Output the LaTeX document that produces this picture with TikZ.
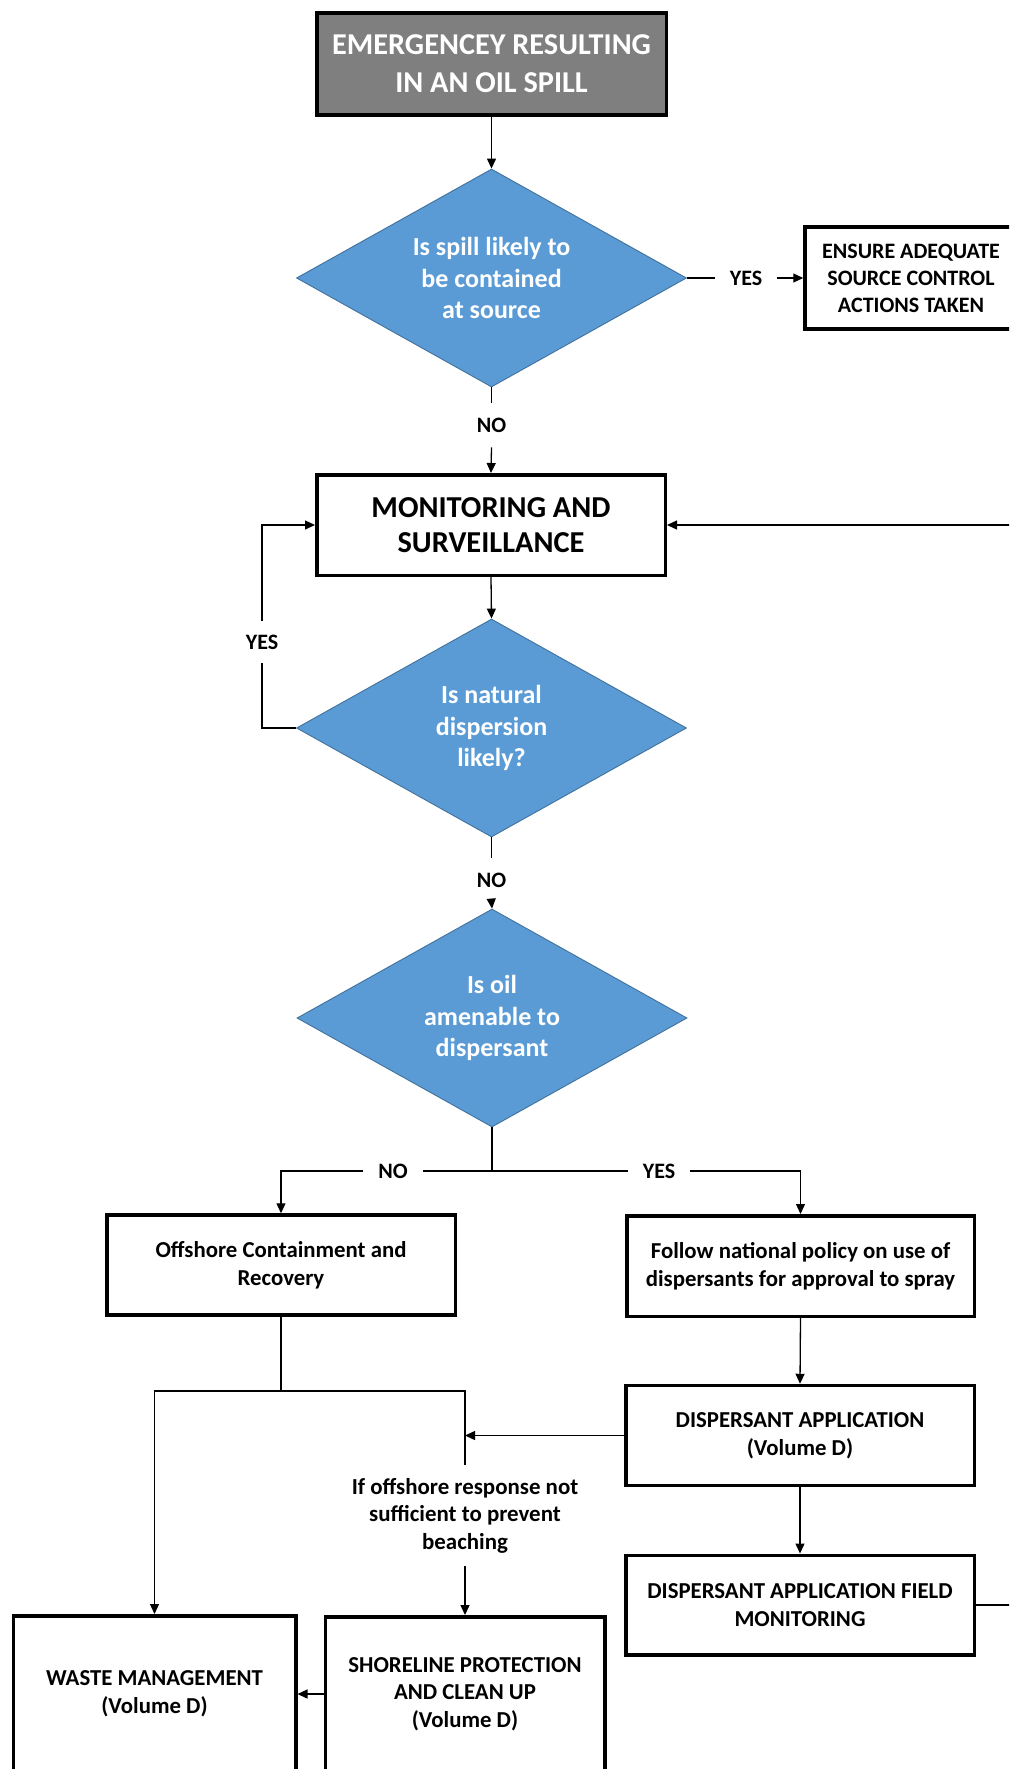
\documentclass[tikz,border=0pt]{standalone}
\usepackage{fontspec}
\setmainfont{Carlito}
\usetikzlibrary{shapes.geometric,arrows.meta}
\definecolor{qblue}{HTML}{5B9BD5}
\definecolor{qedge}{HTML}{41719C}
\definecolor{startgray}{HTML}{7F7F7F}
\tikzset{
  box/.style={draw, rectangle, line width=3.5pt, align=center, inner sep=0pt,
    font=\fontsize{22.8}{27.6}\selectfont\bfseries},
  smallbox/.style={box, font=\fontsize{22}{27}\selectfont\bfseries},
  startbox/.style={box, fill=startgray, text=white,
    font=\fontsize{30.3}{38}\selectfont\bfseries},
  bigbox/.style={box, font=\fontsize{30.4}{35}\selectfont\bfseries},
  decision/.style={diamond, fill=qblue, draw=qedge, line width=0.9pt,
    aspect=1.79, inner sep=0pt, align=center, text=white,
    minimum width=390pt, minimum height=218pt,
    font=\fontsize{26}{31.7}\selectfont\bfseries},
  lbl/.style={inner sep=0pt, outer sep=0pt, align=center,
    font=\fontsize{22}{27.7}\selectfont\bfseries},
  note/.style={lbl, font=\fontsize{22.9}{27.7}\selectfont\bfseries},
  conn/.style={line width=1.3pt},
  arr/.style={conn, -{Triangle[length=10pt,width=9pt]}}
}
\begin{document}
\begin{tikzpicture}[x=1pt,y=-1pt]
\useasboundingbox (0,0) rectangle (1009,1769);
\fill[white] (0,0) rectangle (1009,1769);
\clip (0,0) rectangle (1009,1769);

% main column
\node[startbox, minimum width=349.5pt, minimum height=101.5pt] (start) at (491.5,64)
  {EMERGENCEY RESULTING\\IN AN OIL SPILL};
\node[decision] (d1) at (491.5,278) {Is spill likely to\\be contained\\at source};
\node[smallbox, minimum width=212pt, minimum height=102pt] (ensure) at (911,278)
  {ENSURE ADEQUATE\\SOURCE CONTROL\\ACTIONS TAKEN};
\node[bigbox, minimum width=348.5pt, minimum height=100.5pt] (mon) at (491,525)
  {MONITORING AND\\SURVEILLANCE};
\node[decision] (d2) at (491.5,728) {Is natural\\dispersion\\likely?};
\node[decision] (d3) at (492,1018) {Is oil\\amenable to\\dispersant};

% response branches
\node[box, minimum width=348.5pt, minimum height=100pt] (off) at (281,1265)
  {Offshore Containment and\\Recovery};
\node[box, minimum width=347.5pt, minimum height=100.5pt] (follow) at (800.5,1266)
  {Follow national policy on use of\\dispersants for approval to spray};
\node[box, minimum width=348.5pt, minimum height=100pt] (da) at (800,1435.5)
  {DISPERSANT APPLICATION\\(Volume D)};
\node[box, minimum width=348.5pt, minimum height=99.5pt] (dafm) at (800,1605)
  {DISPERSANT APPLICATION FIELD\\MONITORING};
\node[box, minimum width=282.5pt, minimum height=156.5pt] (waste) at (154.5,1694)
  {WASTE MANAGEMENT\\(Volume D)};
\node[box, minimum width=279.5pt, minimum height=154.5pt] (shore) at (465,1694)
  {SHORELINE PROTECTION\\AND CLEAN UP\\(Volume D)};

% connector labels
\node[lbl, inner xsep=15pt] (yes1) at (746,278) {YES};
\node[lbl, inner ysep=15pt] (no1) at (491.5,425) {NO};
\node[lbl, inner ysep=14pt] (yesL) at (262,642) {YES};
\node[lbl, inner ysep=15pt] (no2) at (491.5,880) {NO};
\node[lbl, inner xsep=15pt] (noL) at (393,1171) {NO};
\node[lbl, inner xsep=15pt] (yesR) at (659,1171) {YES};
\node[note, inner ysep=13pt, anchor=north] (cond) at (465,1465)
  {If offshore response not\\sufficient to prevent\\beaching};

\coordinate (j1) at (492,1171);
\coordinate (j2) at (281,1391);
\coordinate (fb) at (1030,1605);

% connectors
\draw[arr] (start.south) -- (d1.north);
\draw[conn] (d1.east) -- (yes1.west);
\draw[arr] (yes1.east) -- (ensure.west);
\draw[conn] (d1.south) -- (no1.north);
\draw[arr] (no1.south) -- (mon.north);
\draw[arr] (mon.south) -- (d2.north);
\draw[conn] (d2.west) -| (yesL.south);
\draw[arr] (yesL.north) |- (mon.west);
\draw[conn] (d2.south) -- (no2.north);
\draw[arr] (no2.south) -- (d3.north);
\draw[conn] (d3.south) -- (j1);
\draw[conn] (j1) -- (noL.east);
\draw[arr] (noL.west) -| (off.north);
\draw[conn] (j1) -- (yesR.west);
\draw[arr] (yesR.east) -| (follow.north);
\draw[arr] (follow.south) -- (da.north);
\draw[arr] (da.south) -- (dafm.north);
\draw[conn] (dafm.east) -- (fb);
\draw[arr] (fb) |- (mon.east);
\draw[conn] (off.south) -- (j2);
\draw[arr] (j2) -| (waste.north);
\draw[conn] (j2) -| (cond.north);
\draw[arr] (da.west) -- (da.west -| cond.north);
\draw[arr] (cond.south) -- (shore.north);
\draw[arr] (shore.west) -- (waste.east);
\end{tikzpicture}
\end{document}
